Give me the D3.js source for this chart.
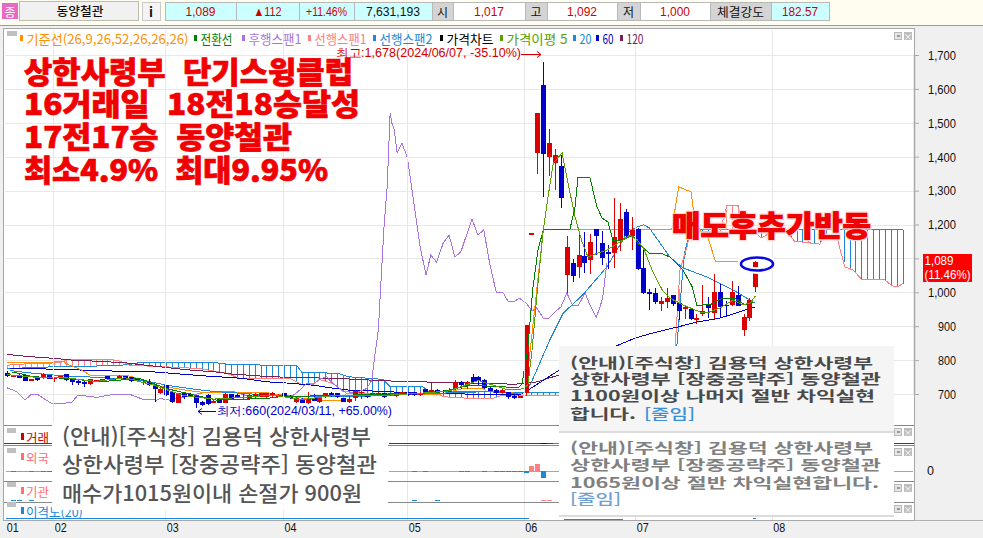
<!DOCTYPE html>
<html lang="ko"><head><meta charset="utf-8">
<script src="https://cdn.jsdelivr.net/npm/d3@7"></script>
<style>
html,body{margin:0;padding:0;background:#fff;overflow:hidden}
svg{display:block}
text{font-family:"Noto Sans CJK KR","Noto Sans",sans-serif}
.num{font-family:"Liberation Sans",sans-serif}
.ln{fill:none;shape-rendering:crispEdges}
</style></head><body>
<svg id="c" width="983" height="538"></svg>
<script>
// ---------- DATA ----------
const candleOpen=[761,751,752,757,739,749,748,755,743,746,758,745,739,736,729,738,741,753,739,745,753,749,745,731,736,726,702,726,707,674,702,700,697,677,697,674,684,674,700,697,687,684,690,692,690,696,692,702,694,676,685,672,687,675,690,702,702,687,677,687,702,699,697,697,702,696,694,700,704,705,697,714,705,712,710,707,714,736,725,751,749,741,719,712,704,705,695,689,702,1174,1412,1612,1400,1382,1373,1051,1086,1075,1107,1096,1187,1146,1119,1116,1152,1237,1166,1187,1072,1001,997,966,971,991,968,950,952,918,936,963,939,1001,963,963,992,889,924,1017];
const candleClose=[753,756,750,739,745,741,758,745,748,752,741,734,731,729,743,741,743,743,745,753,743,739,741,736,726,716,714,697,677,702,692,692,672,667,670,680,674,700,686,690,692,697,700,702,702,702,697,692,687,689,674,685,680,688,702,698,690,677,684,709,707,690,702,704,690,702,699,707,697,697,704,704,712,707,706,712,734,728,734,736,739,719,710,702,712,690,687,694,905,1174,1528,1408,1440,1404,1279,1134,1048,1110,1087,1149,1166,1101,1113,1163,1216,1166,1184,1069,998,995,971,974,983,966,945,956,921,924,945,954,1001,957,960,1001,960,927,976,1089];
const candleHigh=[769,756,761,760,745,752,763,756,749,753,759,746,740,738,744,742,744,754,746,755,754,750,746,745,745,729,721,728,709,703,704,702,698,680,700,684,686,702,701,699,700,700,702,704,704,705,699,704,696,692,687,707,700,690,704,707,704,689,695,712,710,700,704,706,703,704,701,709,706,707,706,716,731,714,712,718,741,739,739,759,753,744,721,714,714,707,697,694,905,1174,1528,1678,1482,1423,1404,1166,1098,1179,1178,1172,1187,1181,1140,1277,1264,1246,1222,1190,1135,1010,1012,986,1013,991,968,960,952,935,1022,986,1054,1025,974,1033,1019,936,983,1092];
const candleLow=[751,751,746,737,739,739,745,743,736,745,738,728,726,721,727,734,738,741,737,743,740,736,738,728,723,677,699,695,674,674,684,690,660,665,668,672,672,672,684,688,684,682,688,690,688,692,690,690,685,674,672,670,678,672,688,692,688,675,672,680,685,688,695,695,688,694,692,698,695,695,695,702,703,705,704,705,712,715,716,730,727,716,708,700,702,686,685,689,695,1174,1349,1282,1343,1302,1250,997,1029,1043,1058,1054,1110,1081,1069,1072,1122,1157,1125,1066,995,948,966,945,954,960,918,921,918,907,930,924,921,927,933,960,960,871,915,1000];

const ma5=[[0,757],[5,749],[10,748],[15,737],[20,748],[25,725],[30,695],[35,685],[40,690],[45,697],[50,683],[55,695],[60,695],[65,697],[70,702],[75,709],[80,740],[85,712],[87.5,715],[88.4,727],[89.1,830],[90.1,1027],[91,1184],[91.8,1281],[92.7,1381],[94.2,1411],[95.2,1322],[96.4,1222],[97.6,1148],[98.6,1104],[99.4,1110],[101.8,1125],[104,1148],[105.7,1169],[107,1154],[108,1131],[109.6,1060],[111.2,1007],[112.5,983],[114.7,963],[117.6,942],[118.8,939],[121,954],[123.2,977],[124.9,963],[126.1,968],[127,989]];
const ma20=[[0.5,769],[4.4,761],[10,753],[15.7,749],[21.4,743],[24.2,736],[27,726],[32.7,712],[35.5,707],[44,697],[50.3,692],[61.6,694],[73,702],[81.4,707],[86.3,702],[88,706],[89,735],[92.1,859],[92.7,880],[94.4,939],[97.7,992],[101.8,1075],[104.5,1154],[105.2,1175],[106.9,1193],[108,1199],[109,1190],[112.5,1104],[114.7,1072],[118.8,1045],[123.2,1007],[127,968]];
const ma60=[[0.5,775],[10,773],[12,771],[21,766],[25,765],[33,754],[40,746],[44,736],[47,733],[52,726],[55,718],[57.6,712],[64.4,707],[70,702],[81.4,699],[86.8,697],[88,707],[93.5,768],[103.7,844],[106.6,865],[109.6,880],[113.9,898],[117,912],[121,924],[127,957]];
const ma120=[[0,817],[2,813],[4,810],[8,805],[11,800],[16,796],[20,792],[22,788],[27,778],[32,769],[35,766],[38,759],[43,753],[45,751],[48,749],[56,746],[64,739],[69,736],[76,734],[81,731],[86,729],[88,731],[90,736],[94,758]];
const tenkan=[[0.8,765],[2,761],[4.4,751],[10,746],[15.7,736],[22.5,746],[27,716],[35.5,682],[44,687],[46.3,692],[58.7,697],[73,704],[78.6,726],[84.2,721],[86.8,719],[87.4,731],[88.4,839],[89.2,1007],[90.1,1125],[91,1184],[95.5,1184],[96.4,1252],[96.9,1340],[98.9,1340],[100.1,1252],[101,1219],[102,1207],[102.8,1154],[104.5,1154],[106.2,1169],[107,1145],[108,1131],[109.1,1113],[111.3,1113],[112.5,1104],[114.7,1066],[116.3,1016],[117.1,960],[118.1,963],[119.3,963],[121.5,983],[123.5,983],[125.2,963],[126.6,971]];
const kijun=[[0,792],[2.4,792],[9.5,795],[10.6,785],[12.6,771],[14,756],[20.5,754],[24,736],[25,726],[32,707],[34,704],[44,704],[53,680],[56.8,680],[57.6,702],[73,697],[77.4,716],[80.8,716],[81.4,707],[86.9,702],[88,704],[91,1184],[112.8,1184],[114,1311],[116.1,1296],[116.6,1226],[117.6,1184],[119,1160],[120.2,1092],[124.1,1092]];
const chikou=[[0,718],[1.6,707],[3,682],[4.1,699],[5.3,697],[7.5,672],[10.9,674],[12,697],[15.2,690],[18,699],[20.8,699],[23.1,684],[25.4,682],[25.9,687],[27.6,682],[32.7,702],[35,707],[38.4,707],[41.2,692],[44,697],[45.7,697],[48.6,697],[49.7,712],[50.8,731],[51.9,728],[53,743],[54.2,751],[55.3,731],[57.6,702],[59.6,707],[61,716],[61.9,741],[62.3,800],[63,889],[63.3,986],[64,1204],[64.5,1311],[65,1529],[65.3,1499],[65.7,1479],[66.2,1411],[67,1440],[67.9,1399],[68.4,1340],[69.2,1243],[70.1,1134],[71.1,1051],[71.9,1110],[72.9,1089],[74,1145],[75,1169],[76,1104],[77,1119],[78.9,1216],[79.9,1169],[80.9,1184],[81.9,1086],[83,1001],[84.2,998],[85,974],[86.2,974],[86.9,983],[88.1,968],[89.1,945],[89.9,954],[91,924],[92,924],[93,942],[94,957],[95,998],[96,960],[96.9,960],[98.1,998],[98.9,963],[100,927],[100.6,954],[101.1,986],[101.8,1086]];
const span1=[[0,785],[2.4,788],[4.4,790],[8.9,792],[10.6,803],[12.6,803],[18.6,800],[19.7,793],[20.8,785],[27,780],[32.7,775],[37.2,761],[39.5,746],[44.6,746],[48,746],[50.3,726],[52,731],[53,743],[55.3,731],[57,707],[61.6,702],[73.5,697],[74,692],[78.6,687],[82.5,687],[84.2,697],[87.6,697],[93.5,697],[112,700],[113.4,839],[114.2,1066],[115.4,1134],[116.2,1199],[116.7,1178],[121,1178],[122.2,1257],[124,1257],[124.9,1204],[126.6,1184],[128,1160],[129.5,1175],[132.4,1175],[133.7,1151],[138,1142],[138.5,1163],[140.9,1160],[142.2,1075],[143.6,1066],[145.1,1037],[149,1037],[150.2,1019],[151.2,1016],[152.1,1027]];
const span2=[[0,775],[4.4,778],[10.6,782],[18.6,783],[20.8,788],[22.2,792],[35.5,792],[37.8,787],[44.6,785],[49.1,785],[50,764],[56.2,761],[57.9,751],[63.8,743],[65,721],[70.6,721],[71.5,707],[93.3,705],[112.8,705],[113.7,844],[114.6,1045],[115,1116],[115.9,1178],[117,1184],[152.1,1184]];
const priceTicks=[700,800,900,1000,1100,1200,1300,1400,1500,1600,1700];
const monthLabels=["01","02","03","04","05","06","07","08"];
const monthIndex=[0,7.8,26.8,46.8,67.9,87.7,106.6,129.8];
const foreignNet=[[88,-2],[89,5],[90,7],[91,-7]];
const foreignSmall=[[1,-0.3],[2,0.3],[3,0.3],[4,-0.3],[5,0.3],[6,-0.3],[7,-0.3],[69,-0.3],[71,-0.3],[77,-0.3],[78,-0.3],[81,-0.3],[83,-0.3],[84,-0.3],[85,-0.3],[86,-0.3],[87,-0.3]];
const instSmall=[[1,-0.5],[2,-0.5],[4,-0.5],[69,-0.5],[73,-0.5],[91,0.5],[92,0.5]];
const legendLabels=["기준선(26,9,26,52,26,26,26)","전환선","후행스팬1","선행스팬1","선행스팬2","가격차트","가격이평 5","20","60","120"];
const legendColors=["#ff9000","#008000","#a875e0","#ff8080","#1e88d8","#000000","#5aa000","#1e88d8","#0000c8","#7a1f5a"];
const quoteCells=[["1,089","#ccffff","#d00000"],["▲112","#ccffff","#d00000"],["+11.46%","#ccffff","#d00000"],["7,631,193","#ccffff","#111"],["시","#d4d4d4","#111"],["1,017","#fff","#d00000"],["고","#d4d4d4","#111"],["1,092","#fff","#d00000"],["저","#d4d4d4","#111"],["1,000","#fff","#d00000"],["체결강도","#d4d4d4","#111"],["182.57","#ccffff","#d00000"]];
const headlineLines=["상한사령부  단기스윙클럽","16거래일  18전18승달성","17전17승  동양철관","최소4.9%  최대9.95%"];
const noteLeft=["(안내)[주식창] 김용덕 상한사령부","상한사령부 [장중공략주] 동양철관","매수가1015원이내 손절가 900원"];
const noteTop=["(안내)[주식창] 김용덕 상한사령부","상한사령부 [장중공략주] 동양철관","1100원이상 나머지 절반 차익실현","합니다."];
const noteBottom=["(안내)[주식창] 김용덕 상한사령부","상한사령부 [장중공략주] 동양철관","1065원이상 절반 차익실현합니다."];

// ---------- LAYOUT ----------
const svg=d3.select("#c");
const x=d3.scaleLinear().domain([0,127]).range([7.3,755.3]);
const y=d3.scaleLinear().domain([700,1700]).range([394,55]);
const rect=(g,a,b,w,h,f,s)=>g.append("rect").attr("x",a).attr("y",b).attr("width",w).attr("height",h).attr("fill",f).attr("stroke",s||"none").attr("shape-rendering","crispEdges");
const txt=(g,s,a,b,o={})=>{const t=g.append("text").attr("x",a).attr("y",b).text(s).attr("fill",o.fill||"#111").attr("font-size",o.size||12).attr("font-weight",o.weight||400).attr("dominant-baseline","central").attr("text-anchor",o.anchor||"start");
 if(o.len)t.attr("textLength",o.len).attr("lengthAdjust","spacingAndGlyphs");if(o.cls)t.attr("class",o.cls);return t;};

// top strip
rect(svg,0,0,983,22,"#fffdf0");
rect(svg,0,22,983,516,"#f0f0f0");
rect(svg,0,25,983,1,"#9a9aa8");
rect(svg,0,22,983,3,"#fffdf0");
rect(svg,2,3,16,16,"#e868c4");
txt(svg,"종",10,11,{anchor:"middle",fill:"#fff",size:12});
rect(svg,19.5,1.5,119,19,"#f1f1f1","#bcbcb0");
txt(svg,"동양철관",80,10.5,{anchor:"middle",size:12,len:47,weight:500});
rect(svg,142.5,2.5,18,18,"#f4f4f4","#c8c8c8");
txt(svg,"i",151,11,{anchor:"middle",weight:700,size:13});
const cellEdges=[165,236,299,354,432,453,525,547,617,640,710,771,829];
const cellTextW=[30,28,41,54,null,30,null,30,null,30,47,36];
quoteCells.forEach((c,i)=>{
  const a=cellEdges[i],b=cellEdges[i+1];
  rect(svg,a+.5,2.5,b-a,18,c[1],"#b8b8b8");
  const korean=/[가-힣]/.test(c[0]);
  txt(svg,c[0],(a+b)/2,11.5,{anchor:"middle",fill:c[2],size:korean?12:13,cls:korean?null:"num",len:cellTextW[i]});
});

// chart frame
rect(svg,4,29,911,491,"#fff");
rect(svg,3.5,28.5,911,491.5,"none","#a8a8a8");

const clip=svg.append("defs").append("clipPath").attr("id","plot").append("rect").attr("x",5).attr("y",30).attr("width",909).attr("height",394);
const main=svg.append("g").attr("clip-path","url(#plot)");

// grid from scales
main.append("g").selectAll("line").data(priceTicks).join("line").attr("x1",5).attr("x2",914).attr("y1",d=>Math.round(y(d))+.5).attr("y2",d=>Math.round(y(d))+.5).attr("stroke","#e8e8e8");
svg.append("g").selectAll("line").data(monthIndex.slice(1)).join("line").attr("x1",d=>Math.round(x(d))+.5).attr("x2",d=>Math.round(x(d))+.5).attr("y1",30).attr("y2",520).attr("stroke","#e8e8e8");

// hatch between the two cloud spans
const interp=(arr,i)=>{const k=d3.bisector(d=>d[0]).left(arr,i);if(k<=0)return arr[0][1];if(k>=arr.length)return arr[arr.length-1][1];const a=arr[k-1],b=arr[k];return a[1]+(b[1]-a[1])*(i-a[0])/(b[0]-a[0]);};
const cloudIdx=d3.range(0,153);
main.append("g").selectAll("line").data(cloudIdx).join("line")
 .attr("x1",d=>Math.round(x(d))+.5).attr("x2",d=>Math.round(x(d))+.5)
 .attr("y1",d=>y(interp(span1,d))).attr("y2",d=>y(interp(span2,d)))
 .attr("stroke",d=>interp(span1,d)>interp(span2,d)?"#ff8080":"#1e88d8").attr("shape-rendering","crispEdges");

const line=d3.line().x(d=>x(d[0])).y(d=>y(d[1]));
const drawLine=(g,a,c)=>g.append("path").attr("class","ln").attr("d",line(a)).attr("stroke",c).attr("stroke-width",1);
drawLine(main,span2,"#1e88d8");
drawLine(main,span1,"#ff8080");
drawLine(main,ma120,"#7a1f5a");
drawLine(main,ma60,"#0000c8");
drawLine(main,chikou,"#a875e0");
drawLine(main,kijun,"#ff9000");
drawLine(main,ma20,"#1e88d8");

// candles
const idx=d3.range(candleOpen.length);
const col=i=>candleClose[i]>=candleOpen[i]?"#dc0000":"#0000c8";
const cg=main.append("g").attr("shape-rendering","crispEdges");
cg.selectAll("line").data(idx).join("line").attr("x1",i=>Math.round(x(i))+.5).attr("x2",i=>Math.round(x(i))+.5).attr("y1",i=>y(candleHigh[i])).attr("y2",i=>y(candleLow[i])).attr("stroke",col);
cg.selectAll("rect").data(idx).join("rect").attr("x",i=>Math.round(x(i))-2).attr("width",5)
 .attr("y",i=>y(Math.max(candleOpen[i],candleClose[i])))
 .attr("height",i=>Math.max(1.5,Math.abs(y(candleOpen[i])-y(candleClose[i])))).attr("fill",col);
drawLine(main,tenkan,"#008000");
drawLine(main,ma5,"#5aa000");

// high / low notes
txt(svg,"최고:1,678(2024/06/07, -35.10%)",336,53,{fill:"#d00000",size:12,len:185,cls:"num"});
svg.append("path").attr("d","M521 54.5H541M537 51.5l4 3l-4 3").attr("stroke","#d00000").attr("fill","none");
txt(svg,"최저:660(2024/03/11, +65.00%)",217,411,{fill:"#0000c8",size:12,len:175,cls:"num"});
svg.append("path").attr("d","M198 411.5H216M202 408.5l-4 3l4 3").attr("stroke","#0000c8").attr("fill","none");

// legend
const legendX=[20,194,242,308,373,440,500,573,596,620];
const legendW=[162,32,53,52,53,47,61,12,11,17];
legendLabels.forEach((s,i)=>{
  rect(svg,legendX[i],35,3,6,legendColors[i]);
  txt(svg,s,legendX[i]+6.5,38,{fill:legendColors[i],size:13,len:legendW[i]});
});
rect(svg,7,31,10,5,"#c0c0c0");

// window buttons
const btn=yy=>{rect(svg,894.5,yy+.5,7,7,"#e4e4e4","#b8b8b8");rect(svg,896.5,yy+2.5,3,2,"#999");rect(svg,904,yy,8,8,"#bcbcbc");txt(svg,"×",908,yy+4,{anchor:"middle",fill:"#fff",size:9});};
[32,428,448,484,505].forEach(btn);

// sub panels
[425,445,481,502].forEach(v=>rect(svg,4,v,910,1,"#888"));
const sub=svg.append("g");
const subY=d3.scaleLinear().domain([-10,10]).range([481,461]);
const subLabels=[["거래","#d00000",437],["외국","#ff7070",457],["기관","#ff7070",491],["이격도(20)","#1e88d8",511]];
subLabels.forEach(l=>{rect(sub,7,l[2]-9,9,5,"#c0c0c0");rect(sub,21,l[2]-4,3,7,l[1]);txt(sub,l[0],26,l[2],{fill:l[1],size:12.5});});
rect(sub,4,443,52,1,"#7a1f5a");rect(sub,389,443,171,1,"#7a1f5a");rect(sub,535,443,5,1,"#dc0000");rect(sub,541,443,5,1,"#0000c8");rect(sub,553,443,6,1,"#5aa000");rect(sub,890,443,24,1,"#7a1f5a");
rect(sub,6,471,50,1,"#ff8080");rect(sub,389,471,171,1,"#ff8080");rect(sub,894,471,19,1,"#ff8080");
sub.selectAll(".fs").data(foreignSmall).join("rect").attr("class","fs").attr("x",d=>Math.round(x(d[0]))-2).attr("width",5).attr("y",471).attr("height",1).attr("fill",d=>d[1]>0?"#ff7070":"#1e88d8").attr("shape-rendering","crispEdges");
sub.selectAll(".fb").data(foreignNet).join("rect").attr("class","fb").attr("x",d=>Math.round(x(d[0]))-2).attr("width",5)
 .attr("y",d=>Math.min(subY(d[1]),subY(0))).attr("height",d=>Math.abs(subY(d[1])-subY(0))).attr("fill",d=>d[1]>0?"#ff8080":"#1e88d8").attr("shape-rendering","crispEdges");
sub.selectAll(".is").data(instSmall).join("rect").attr("class","is").attr("x",d=>Math.round(x(d[0]))-2).attr("width",5).attr("y",500).attr("height",1).attr("fill",d=>d[1]>0?"#ff8080":"#1e88d8").attr("shape-rendering","crispEdges");
rect(sub,6,518,523,1,"#1e88d8");rect(sub,753,518,3,1,"#1e88d8");

// price axis (from the scale)
rect(svg,915,29,68,491,"#f0f0f0");
const axisY=d3.axisRight(y).tickValues(priceTicks).tickFormat(d3.format(",")).tickSize(0);
const ax=svg.append("g").attr("transform","translate(914,0)").call(axisY);
ax.select(".domain").attr("stroke","#a8a8a8").attr("stroke-width",1.5);
ax.selectAll("text").attr("class","num").attr("font-size",13.5).attr("fill","#111").attr("font-family",null)
  .attr("x",42).attr("text-anchor","end").attr("textLength",d=>d>=1000?28:18).attr("lengthAdjust","spacingAndGlyphs");
ax.selectAll(".tick").append("line").attr("x1",0).attr("x2",5).attr("stroke","#aaa");
txt(svg,"0",927,470,{size:13.5,cls:"num",len:7});
rect(svg,914,520,69,1,"#b0b0b0");

// current price badge
rect(svg,923,254,49,28,"#ff0000");
txt(svg,"1,089",924.5,261,{fill:"#fff",size:12.5,cls:"num",len:29});
txt(svg,"(11.46%)",924.5,275,{fill:"#fff",size:12,cls:"num",len:46});

// month axis
const axisX=d3.axisBottom(x).tickValues(monthIndex).tickFormat((d,i)=>monthLabels[i]).tickSize(0).tickPadding(2);
const bx=svg.append("g").attr("transform","translate(0,520)").call(axisX);
bx.select(".domain").remove();
bx.selectAll("text").attr("class","num").attr("font-size",13.5).attr("fill","#111").attr("text-anchor","start").attr("dx",d=>d===0?-1:1).attr("font-family",null).attr("textLength",12).attr("lengthAdjust","spacingAndGlyphs");

// pasted notices
rect(svg,52,423,336,87,"#fff");
noteLeft.forEach((s,i)=>txt(svg,s,62,[435,463,492][i],{fill:"#555",size:21,weight:500,len:[309,315,300][i]}));
rect(svg,559,346,335,85,"#f5f5f5");
rect(svg,559,431,335,85,"#fff");
rect(svg,559,431,335,1.5,"#dcdcdc");rect(svg,559,515,335,1.5,"#dcdcdc");
noteTop.forEach((s,i)=>txt(svg,s,570,[362,378,395,413][i],{fill:"#4a4a4a",size:14,weight:700,len:[303,311,305,66][i]}));
txt(svg,"[줄임]",644,413,{fill:"#3a90d8",size:14,weight:500,len:51});
noteBottom.forEach((s,i)=>txt(svg,s,570,[447,464,482][i],{fill:"#808080",size:14,weight:700,len:[303,311,309][i]}));
txt(svg,"[줄임]",570,498,{fill:"#6f9fcf",size:14,weight:500,len:51});
rect(svg,564,519,59,1,"#1e88d8");

// annotations
const oval=svg.append("g");
oval.append("ellipse").attr("cx",757).attr("cy",264).attr("rx",16).attr("ry",6.5).attr("fill","none").attr("stroke","#fff").attr("stroke-width",7);
const last=candleOpen.length-1;
oval.append("rect").attr("x",Math.round(x(last))-2).attr("width",5).attr("y",y(candleClose[last])).attr("height",5).attr("fill","#dc0000");
oval.append("ellipse").attr("cx",757).attr("cy",264).attr("rx",16).attr("ry",6.5).attr("fill","none").attr("stroke","#0808e0").attr("stroke-width",2.6);

headlineLines.forEach((s,i)=>txt(svg,s,24,[70,102,135,168][i],{fill:"#f00000",size:30,weight:900,len:[329,336,268,304][i]}).attr("stroke","#f00000").attr("stroke-width",0.7).style("white-space","pre"));
txt(svg,"매도후추가반동",672,224,{fill:"#f00000",size:29,weight:900,len:199}).attr("stroke","#ffd8d8").attr("stroke-width",3).attr("paint-order","stroke");
txt(svg,"매도후추가반동",672,224,{fill:"#f00000",size:29,weight:900,len:199}).attr("stroke","#f00000").attr("stroke-width",0.7);
</script></body></html>
